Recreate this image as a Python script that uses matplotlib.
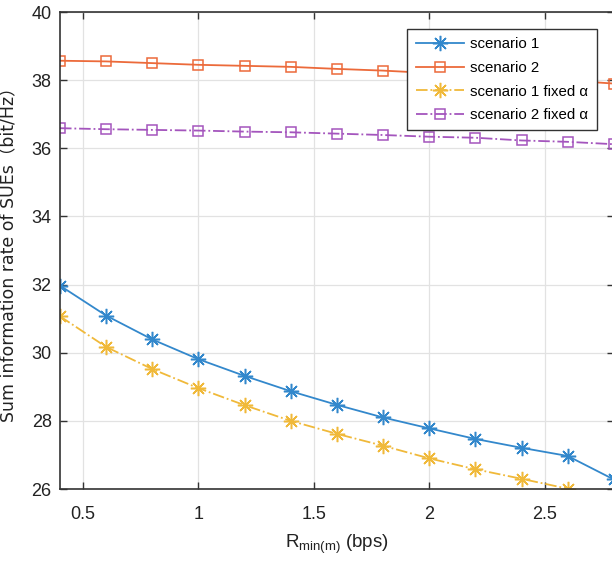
import matplotlib
matplotlib.use("Agg")
import matplotlib.pyplot as plt

# ---- data ----
r_min = [0.4, 0.6, 0.8, 1.0, 1.2, 1.4, 1.6, 1.8, 2.0, 2.2, 2.4, 2.6, 2.8]
scenario1 = [31.97, 31.09, 30.39, 29.81, 29.32, 28.87, 28.47, 28.10, 27.78, 27.47, 27.21, 26.97, 26.28]
scenario2 = [38.57, 38.55, 38.50, 38.45, 38.42, 38.39, 38.33, 38.28, 38.21, 38.14, 38.06, 37.99, 37.90]
scenario1_fixed = [31.07, 30.17, 29.52, 28.96, 28.46, 28.00, 27.62, 27.27, 26.90, 26.58, 26.30, 26.01, 25.75]
scenario2_fixed = [36.59, 36.56, 36.54, 36.52, 36.49, 36.47, 36.43, 36.39, 36.34, 36.31, 36.23, 36.19, 36.12]
labels = ["scenario 1", "scenario 2", "scenario 1 fixed \u03b1", "scenario 2 fixed \u03b1"]
xticks = [0.5, 1, 1.5, 2, 2.5]
yticks = [26, 28, 30, 32, 34, 36, 38, 40]

plt.rcParams['font.family'] = ['Liberation Sans', 'DejaVu Sans']

fig = plt.figure(figsize=(6.12, 5.61), dpi=100)
ax = fig.add_axes([0.098, 0.1283, 0.905, 0.8503])

blue = "#3388cc"
orange = "#ec6a3a"
yellow = "#f0b93a"
purple = "#a455bd"
ast = (8, 2, 0)

ax.plot(r_min, scenario1, color=blue, lw=1.3, marker=ast, ms=11, mew=1.1, label=labels[0])
ax.plot(r_min, scenario2, color=orange, lw=1.3, marker='s', ms=7.5, mfc='none', mew=1.1, label=labels[1])
ax.plot(r_min, scenario1_fixed, color=yellow, lw=1.3, ls='-.', marker=ast, ms=11, mew=1.1, label=labels[2])
ax.plot(r_min, scenario2_fixed, color=purple, lw=1.3, ls='-.', marker='s', ms=7.5, mfc='none', mew=1.1, label=labels[3])

ax.set_xlim(0.4, 2.8)
ax.set_ylim(26, 40)
ax.set_xticks(xticks)
ax.set_xticklabels([str(t) for t in xticks])
ax.set_yticks(yticks)
ax.grid(True, color='#e2e2e2', lw=0.9)
ax.set_axisbelow(True)
for s in ax.spines.values():
    s.set_color('#333333')
    s.set_linewidth(1.2)
ax.tick_params(direction='in', top=True, right=True, length=5, width=1.0,
               colors='#333333', labelsize=13, labelcolor='#222222')
ax.tick_params(axis='y', pad=6)
ax.tick_params(axis='x', pad=12)

ax.set_xlabel(r'$\mathregular{R_{min(m)}}$ (bps)', fontsize=13.5, color='#222222', labelpad=7)
ax.set_ylabel('Sum information rate of SUEs\uff08bit/Hz\uff09', fontsize=12.5,
              color='#222222',
              family=['DejaVu Sans', 'Noto Sans CJK SC'])
ax.yaxis.set_label_coords(-0.076, 0.501)

leg = ax.legend(loc='upper right', bbox_to_anchor=(0.969, 0.964), fontsize=10.8,
                fancybox=False, framealpha=1, edgecolor='#333333', borderaxespad=0,
                handlelength=3.2, borderpad=0.55, labelspacing=0.64, handletextpad=0.45)
leg.get_frame().set_linewidth(1.0)

fig.savefig("out.png", dpi=100)
